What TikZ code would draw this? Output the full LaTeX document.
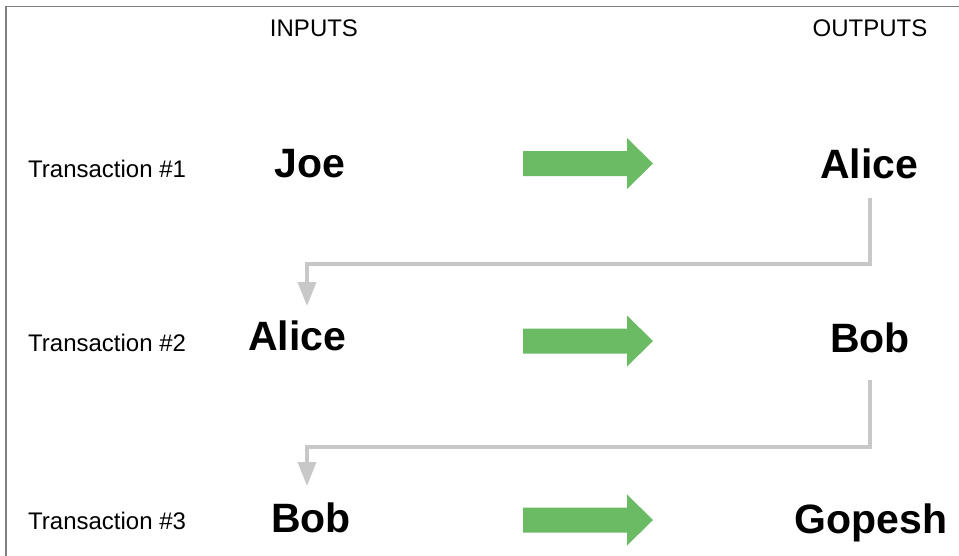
\documentclass[tikz,border=0pt]{standalone}
\usepackage{fontspec}
\setmainfont{Liberation Sans}
\usetikzlibrary{arrows.meta}
\definecolor{arrgreen}{HTML}{6ABB64}
\definecolor{conngray}{HTML}{C8C8C8}
\definecolor{framegray}{HTML}{7F7F7F}
\tikzset{
 colhead/.style={anchor=base, font=\fontsize{24}{28}\selectfont, inner sep=0pt},
 rowlabel/.style={anchor=base west, font=\fontsize{24}{28}\selectfont, inner sep=0pt},
 bigname/.style={anchor=base, font=\fontsize{41}{46}\selectfont\bfseries, inner sep=0pt},
 conn/.style={draw=conngray, line width=3.5pt, -{Triangle[width=18pt,length=24pt]}},
 pics/greenarrow/.style={code={\fill[arrgreen] (-65,-12.5) -- (39,-12.5) -- (39,-25.5) -- (65,0) -- (39,25.5) -- (39,12.5) -- (-65,12.5) -- cycle;}}
}
\begin{document}
\begin{tikzpicture}[x=1pt,y=-1pt]
\useasboundingbox (0,0) rectangle (959,555);
\fill[white] (0,0) rectangle (959,555);
\draw[framegray, line width=1.5pt] (6,556) -- (6,6.5) -- (960,6.5);

\node[colhead] (inputs) at (314,36) {INPUTS};
\node[colhead] (outputs) at (870,36) {OUTPUTS};

\node[rowlabel] (t1) at (28,177) {Transaction \#1};
\node[rowlabel] (t2) at (28,351) {Transaction \#2};
\node[rowlabel] (t3) at (28,529) {Transaction \#3};

\node[bigname] (in1) at (310,177) {Joe};
\node[bigname] (out1) at (869,178) {Alice};
\node[bigname] (in2) at (297,350) {Alice};
\node[bigname] (out2) at (870,352) {Bob};
\node[bigname] (in3) at (311,532) {Bob};
\node[bigname] (out3) at (871,533) {Gopesh};

\pic at (588,163.5) {greenarrow};
\pic at (588,341) {greenarrow};
\pic at (588,520) {greenarrow};

\coordinate (s1) at (870,198);
\coordinate (e1) at (307,306);
\coordinate (s2) at (870,380);
\coordinate (e2) at (307,486);
\draw[conn] (s1) |- (e1 |- 0,264) -- (e1);
\draw[conn] (s2) |- (e2 |- 0,447) -- (e2);
\end{tikzpicture}
\end{document}
